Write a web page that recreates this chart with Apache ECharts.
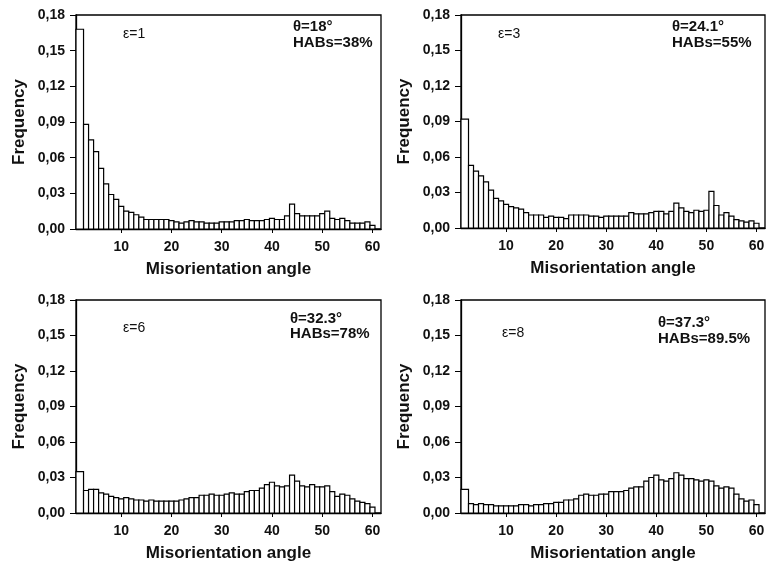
<!DOCTYPE html>
<html>
<head>
<meta charset="utf-8">
<script src="https://cdn.jsdelivr.net/npm/echarts@6/dist/echarts.min.js"></script>
<style>
  html, body { margin: 0; padding: 0; background: #fff; }
  #chart { width: 771px; height: 570px; }
</style>
</head>
<body>
<div id="chart"></div>
<script>
// bin centres (degrees)
const angles = [2, 3, 4, 5, 6, 7, 8, 9, 10, 11, 12, 13, 14, 15, 16, 17, 18, 19, 20, 21,
  22, 23, 24, 25, 26, 27, 28, 29, 30, 31, 32, 33, 34, 35, 36, 37, 38, 39, 40, 41,
  42, 43, 44, 45, 46, 47, 48, 49, 50, 51, 52, 53, 54, 55, 56, 57, 58, 59, 60];

const freqE1 = [0.168, 0.088, 0.075, 0.065, 0.051, 0.038, 0.029, 0.025, 0.019, 0.015,
  0.014, 0.012, 0.010, 0.008, 0.008, 0.008, 0.008, 0.008, 0.007, 0.006,
  0.005, 0.006, 0.007, 0.006, 0.006, 0.005, 0.005, 0.005, 0.006, 0.006,
  0.006, 0.007, 0.007, 0.008, 0.007, 0.007, 0.007, 0.008, 0.009, 0.008,
  0.008, 0.011, 0.021, 0.013, 0.011, 0.011, 0.011, 0.011, 0.013, 0.015,
  0.009, 0.008, 0.009, 0.007, 0.005, 0.005, 0.005, 0.006, 0.003];

const freqE3 = [0.092, 0.053, 0.048, 0.044, 0.039, 0.032, 0.025, 0.023, 0.020, 0.018,
  0.017, 0.016, 0.013, 0.011, 0.011, 0.011, 0.009, 0.010, 0.009, 0.009,
  0.008, 0.011, 0.011, 0.011, 0.011, 0.010, 0.010, 0.009, 0.010, 0.010,
  0.010, 0.010, 0.010, 0.013, 0.012, 0.012, 0.012, 0.013, 0.014, 0.014,
  0.012, 0.014, 0.021, 0.017, 0.014, 0.013, 0.015, 0.014, 0.015, 0.031,
  0.019, 0.011, 0.013, 0.010, 0.007, 0.006, 0.005, 0.006, 0.004];

const freqE6 = [0.035, 0.019, 0.020, 0.020, 0.017, 0.016, 0.014, 0.013, 0.012, 0.013,
  0.012, 0.011, 0.011, 0.010, 0.011, 0.010, 0.010, 0.010, 0.010, 0.010,
  0.011, 0.012, 0.013, 0.013, 0.015, 0.015, 0.016, 0.015, 0.015, 0.016,
  0.017, 0.016, 0.016, 0.018, 0.019, 0.019, 0.021, 0.024, 0.026, 0.023,
  0.022, 0.023, 0.032, 0.027, 0.023, 0.022, 0.024, 0.022, 0.022, 0.023,
  0.018, 0.014, 0.016, 0.015, 0.012, 0.010, 0.009, 0.008, 0.005];

const freqE8 = [0.020, 0.008, 0.007, 0.008, 0.007, 0.007, 0.006, 0.006, 0.006, 0.006,
  0.006, 0.007, 0.007, 0.006, 0.007, 0.007, 0.008, 0.008, 0.009, 0.009,
  0.011, 0.011, 0.012, 0.015, 0.016, 0.015, 0.015, 0.016, 0.016, 0.018,
  0.018, 0.018, 0.019, 0.021, 0.022, 0.022, 0.027, 0.030, 0.032, 0.028,
  0.027, 0.029, 0.034, 0.032, 0.029, 0.029, 0.028, 0.027, 0.028, 0.027,
  0.023, 0.021, 0.022, 0.021, 0.016, 0.012, 0.010, 0.011, 0.007];

const xTicks = [10, 20, 30, 40, 50, 60];
const panelData = [freqE1, freqE3, freqE6, freqE8];
const strainLabels = ['ε=1', 'ε=3', 'ε=6', 'ε=8'];
const thetaLabels = ['θ=18°', 'θ=24.1°', 'θ=32.3°', 'θ=37.3°'];
const habLabels = ['HABs=38%', 'HABs=55%', 'HABs=78%', 'HABs=89.5%'];

const X_MIN = 1;
const X_MAX = 61.7;
const FONT = '"Liberation Sans", Arial, sans-serif';

const grids = [
  { left: 76, top: 15, width: 305, height: 214 },
  { left: 461, top: 15, width: 304, height: 213 },
  { left: 76, top: 300, width: 305, height: 213 },
  { left: 461, top: 300, width: 304, height: 213 }
];

// text boxes inside each panel: [strain x, strain y, stats x, theta y, HABs y]
const notePos = [
  [47, 19, 217, 12, 28],
  [37, 19, 211, 12, 28],
  [47, 28, 214, 19, 34],
  [41, 33, 197, 23, 39]
];

function renderBar(params, api) {
  const a = api.value(0);
  const v = api.value(1);
  const x0 = params.dataIndex === 0 ? X_MIN : a - 0.5;
  const p0 = api.coord([x0, v]);
  const p1 = api.coord([a + 0.5, 0]);
  return {
    type: 'rect',
    shape: { x: p0[0], y: p0[1], width: p1[0] - p0[0], height: p1[1] - p0[1] },
    style: { fill: '#fff', stroke: '#000', lineWidth: 1.2 }
  };
}

const chart = echarts.init(document.getElementById('chart'));

const option = {
  backgroundColor: '#fff',
  animation: false,
  grid: grids.map(g => Object.assign({
    show: true, borderColor: '#000', borderWidth: 1.3, backgroundColor: 'transparent'
  }, g)),
  xAxis: grids.map((g, i) => ({
    type: 'value',
    gridIndex: i,
    min: X_MIN,
    max: X_MAX,
    splitLine: { show: false },
    axisLine: { show: true, lineStyle: { color: '#000', width: 1.3 } },
    axisTick: { show: true, customValues: xTicks, length: 4, lineStyle: { color: '#000' } },
    axisLabel: {
      customValues: xTicks, margin: 11, color: '#111',
      fontFamily: FONT, fontWeight: 'bold', fontSize: 14
    },
    name: 'Misorientation angle',
    nameLocation: 'middle',
    nameGap: 32,
    nameTextStyle: { color: '#111', fontFamily: FONT, fontWeight: 'bold', fontSize: 17 }
  })),
  yAxis: grids.map((g, i) => ({
    type: 'value',
    gridIndex: i,
    min: 0,
    max: 0.18,
    interval: 0.03,
    splitLine: { show: false },
    axisLine: { show: true, lineStyle: { color: '#000', width: 1.3 } },
    axisTick: { show: true, length: 6, lineStyle: { color: '#000' } },
    axisLabel: {
      margin: 11, color: '#111', fontFamily: FONT, fontWeight: 'bold', fontSize: 14,
      formatter: v => v.toFixed(2).replace('.', ',')
    },
    name: 'Frequency',
    nameLocation: 'middle',
    nameGap: 48,
    nameTextStyle: { color: '#111', fontFamily: FONT, fontWeight: 'bold', fontSize: 17 }
  })),
  series: panelData.map((vals, i) => ({
    type: 'custom',
    xAxisIndex: i,
    yAxisIndex: i,
    renderItem: renderBar,
    encode: { x: 0, y: 1 },
    data: angles.map((a, k) => [a, vals[k]])
  })),
  graphic: [].concat(...grids.map((g, i) => {
    const p = notePos[i];
    return [
      {
        type: 'text', x: g.left + p[0], y: g.top + p[1],
        style: { text: strainLabels[i], font: '14px ' + FONT, fill: '#111', verticalAlign: 'middle' }
      },
      {
        type: 'text', x: g.left + p[2], y: g.top + p[3],
        style: { text: thetaLabels[i], font: 'bold 15px ' + FONT, fill: '#111', verticalAlign: 'middle' }
      },
      {
        type: 'text', x: g.left + p[2], y: g.top + p[4],
        style: { text: habLabels[i], font: 'bold 15px ' + FONT, fill: '#111', verticalAlign: 'middle' }
      }
    ];
  }))
};

chart.setOption(option);
</script>
</body>
</html>
